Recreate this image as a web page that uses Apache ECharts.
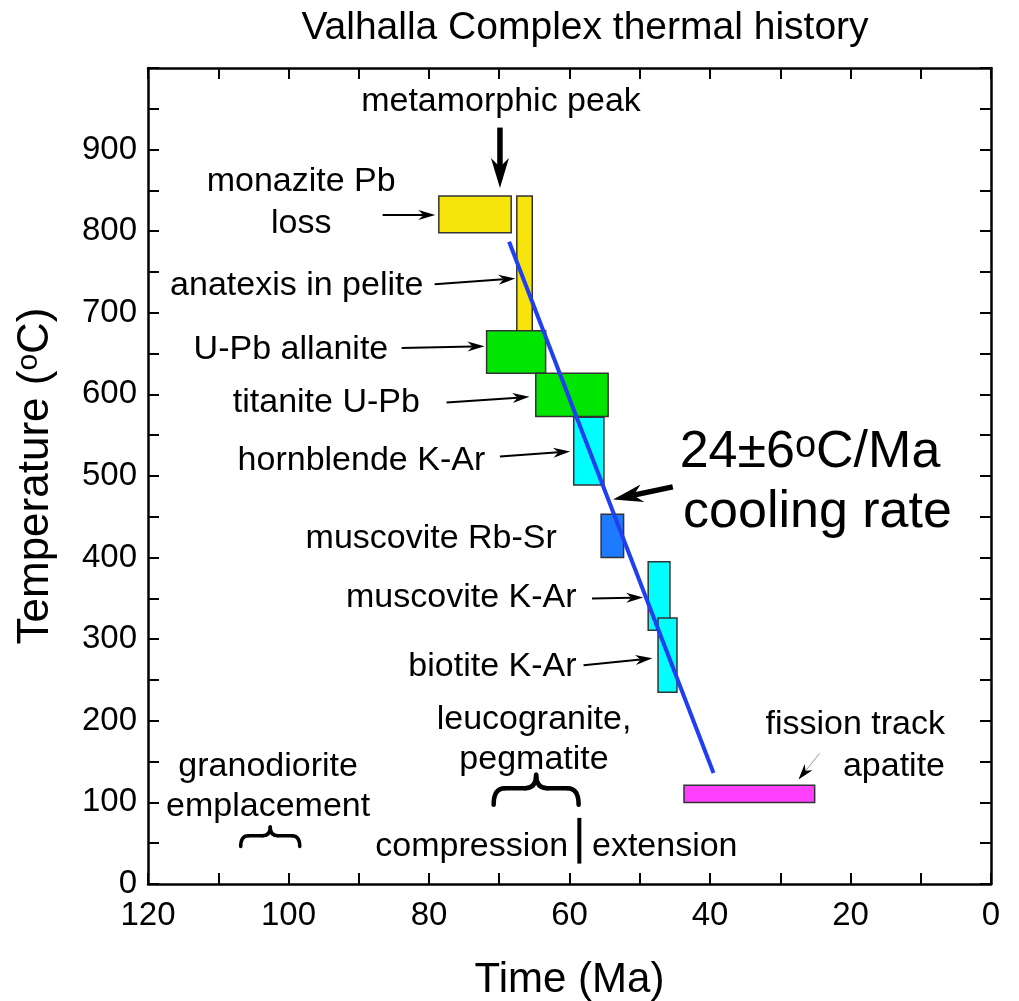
<!DOCTYPE html>
<html><head><meta charset="utf-8">
<script src="https://cdn.jsdelivr.net/npm/echarts@6/dist/echarts.min.js"></script>
<style>html,body{margin:0;padding:0;background:#fff}#c{width:1019px;height:1001px}</style>
</head><body><div id="c"></div>
<script>
// ---- data (ages in Ma, temperatures in °C) ----
const boxNames     = ['monazite Pb loss','anatexis in pelite','U-Pb allanite','titanite U-Pb','hornblende K-Ar','muscovite Rb-Sr','muscovite K-Ar','biotite K-Ar','fission track apatite'];
const boxAgeOld    = [78.6, 67.5, 71.8, 64.8, 59.4, 55.5, 48.8, 47.4, 43.7];
const boxAgeYoung  = [68.3, 65.3, 63.4, 54.5, 55.1, 52.3, 45.7, 44.7, 25.1];
const boxTempHigh  = [843, 843, 678, 626, 572, 453, 395, 326, 121];
const boxTempLow   = [798, 675, 626, 573, 489, 400, 311, 235, 100];

const coolingAge   = [68.6, 39.5];
const coolingTemp  = [787, 136];

const dividerAge   = [58.6, 58.6];
const dividerTemp  = [25, 81];

const braceAgeOld   = [70.8, 106.8];
const braceAgeYoung = [58.7, 98.4];
const braceTempEnd  = [97, 46];
const braceTempTip  = [134, 70];

const labelTexts = ['metamorphic peak','monazite Pb','loss','anatexis in pelite','U-Pb allanite','titanite U-Pb','hornblende K-Ar','muscovite Rb-Sr','muscovite K-Ar','biotite K-Ar','leucogranite,','pegmatite','granodiorite','emplacement','compression','extension','fission track','apatite','24±6{s|o}C/Ma','cooling rate'];
const labelAge   = [69.75, 98.2, 98.2, 80.8, 85.8, 81.3, 72.0, 61.8, 59.0, 59.0, 65.05, 65.05, 102.9, 102.9, 60.2, 56.8, 6.55, 6.55, 25.77, 24.7];
const labelTemp  = [959, 860.5, 809, 733.8, 654.9, 590, 518.6, 423.5, 351, 266.6, 201.7, 152.6, 144.2, 95.2, 46.2, 46.2, 195.2, 144.2, 528, 454.5];

const arrowFromAge  = [69.9, 86.6, 79.2, 83.9, 77.5, 69.9, 56.8, 58.0, 45.3, 24.4];
const arrowFromTemp = [927, 820, 735, 657, 590, 524, 350, 268, 486.7, 160];
const arrowToAge    = [69.9, 79.1, 67.7, 72.1, 65.7, 59.9, 49.5, 48.2, 53.8, 27.4];
const arrowToTemp   = [853, 820, 742, 659, 597, 530, 351, 276.6, 471.2, 128];

const xTickLabels = [0, 20, 40, 60, 80, 100, 120];
const yTickLabels = [0, 100, 200, 300, 400, 500, 600, 700, 800, 900];

// ---- styles ----
const FONT = '"Liberation Sans", Arial, Helvetica, sans-serif';
const boxColors = ['#f6e40c','#f6e40c','#00e600','#00e600','#00ffff','#1e7bff','#00ffff','#00ffff','#ff40ff'];
const labelAlign = ['center','center','center','right','right','right','right','right','right','right','center','center','center','center','right','left','right','right','center','center'];
const labelBig = [18, 19];
const arrowKind = ['thick','thin','thin','thin','thin','thin','thin','thin','thick','gray'];

const chart = echarts.init(document.getElementById('c'), null, {renderer: 'canvas'});

function frameAxis(extra) {
  return Object.assign({
    type: 'value',
    axisLine: {show: true, onZero: false, lineStyle: {color: '#000', width: 2.5}},
    axisTick: {show: true, inside: true, length: 11, lineStyle: {color: '#000', width: 2}},
    splitLine: {show: false}
  }, extra);
}

const option = {
  animation: false,
  backgroundColor: '#fff',
  textStyle: {fontFamily: FONT},
  grid: {left: 148, right: 28, top: 68, bottom: 117, containLabel: false, outerBoundsMode: 'none'},
  graphic: [{
    type: 'text', x: 585, y: 28,
    style: {text: 'Valhalla Complex thermal history', font: '39px ' + FONT, fill: '#000', align: 'center', verticalAlign: 'middle'}
  }],
  xAxis: [
    frameAxis({
      min: 0, max: 120, interval: 10, inverse: true, position: 'bottom',
      axisLabel: {margin: 15, fontSize: 33, color: '#000', fontFamily: FONT,
        formatter: v => xTickLabels.indexOf(v) >= 0 ? String(v) : ''},
      name: 'Time (Ma)', nameLocation: 'middle', nameGap: 75,
      nameTextStyle: {fontSize: 42, color: '#000', fontFamily: FONT}
    }),
    frameAxis({min: 0, max: 120, interval: 10, inverse: true, position: 'top', axisLabel: {show: false}})
  ],
  yAxis: [
    frameAxis({
      min: 0, max: 1000, interval: 50, position: 'left',
      axisLabel: {margin: 11, fontSize: 33, color: '#000', fontFamily: FONT,
        formatter: v => yTickLabels.indexOf(v) >= 0 ? String(v) : ''},
      name: 'Temperature ({s|o}C)', nameLocation: 'middle', nameGap: 90,
      nameTextStyle: {fontSize: 44, color: '#000', fontFamily: FONT,
        rich: {s: {fontSize: 30, color: '#000', fontFamily: FONT, verticalAlign: 'top'}}}
    }),
    frameAxis({min: 0, max: 1000, interval: 50, position: 'right', axisLabel: {show: false}})
  ],
  series: [
    {
      type: 'custom', name: 'boxes', z: 2,
      data: boxNames.map((n, i) => ({name: n, value: [boxAgeOld[i], boxAgeYoung[i], boxTempHigh[i], boxTempLow[i]]})),
      renderItem: (params, api) => {
        const i = params.dataIndex;
        const p0 = api.coord([api.value(0), api.value(2)]);
        const p1 = api.coord([api.value(1), api.value(3)]);
        return {
          type: 'rect',
          shape: {x: Math.min(p0[0], p1[0]), y: Math.min(p0[1], p1[1]), width: Math.abs(p1[0] - p0[0]), height: Math.abs(p1[1] - p0[1])},
          style: {fill: boxColors[i], stroke: '#333', lineWidth: 1.5}
        };
      }
    },
    {
      type: 'line', name: 'cooling', z: 3, symbol: 'none',
      data: coolingAge.map((a, i) => [a, coolingTemp[i]]),
      lineStyle: {color: '#1f3ff0', width: 4}
    },
    {
      type: 'line', name: 'divider', z: 3, symbol: 'none',
      data: dividerAge.map((a, i) => [a, dividerTemp[i]]),
      lineStyle: {color: '#000', width: 4}
    },
    {
      type: 'custom', name: 'braces', z: 4,
      data: braceAgeOld.map((a, i) => [a, braceAgeYoung[i], braceTempEnd[i], braceTempTip[i]]),
      renderItem: (params, api) => {
        const pL = api.coord([api.value(0), api.value(2)]);
        const pR = api.coord([api.value(1), api.value(2)]);
        const pT = api.coord([(api.value(0) + api.value(1)) / 2, api.value(3)]);
        const x0 = pL[0], x1 = pR[0], yb = pL[1], yt = pT[1], xc = pT[0];
        const ym = yb - (yb - yt) * 0.55;
        const r = (x1 - x0) * 0.13;
        const lw = params.dataIndex === 0 ? 4.5 : 3.5;
        const st = {stroke: '#000', lineWidth: lw, fill: null, lineCap: 'round'};
        const bz = (a, c, b) => ({type: 'bezierCurve', shape: {x1: a[0], y1: a[1], x2: b[0], y2: b[1], cpx1: c[0], cpy1: c[1]}, style: st});
        const ln = (a, b) => ({type: 'line', shape: {x1: a[0], y1: a[1], x2: b[0], y2: b[1]}, style: st});
        return {type: 'group', children: [
          bz([x0, yb], [x0, ym], [x0 + r, ym]),
          ln([x0 + r, ym], [xc - r, ym]),
          bz([xc - r, ym], [xc, ym], [xc, yt]),
          bz([xc, yt], [xc, ym], [xc + r, ym]),
          ln([xc + r, ym], [x1 - r, ym]),
          bz([x1 - r, ym], [x1, ym], [x1, yb])
        ]};
      }
    },
    {
      type: 'custom', name: 'arrows', z: 5,
      data: arrowFromAge.map((a, i) => [a, arrowFromTemp[i], arrowToAge[i], arrowToTemp[i]]),
      renderItem: (params, api) => {
        const kind = arrowKind[params.dataIndex];
        const a = api.coord([api.value(0), api.value(1)]);
        const b = api.coord([api.value(2), api.value(3)]);
        const dx = b[0] - a[0], dy = b[1] - a[1], L = Math.hypot(dx, dy);
        const ux = dx / L, uy = dy / L, nx = -uy, ny = ux;
        const spec = kind === 'thick' ? {hl: 30, hw: 9, lw: 5.5, col: '#000'} :
                     kind === 'gray' ? {hl: 16, hw: 5, lw: 1, col: '#999'} :
                                       {hl: 17, hw: 5, lw: 2, col: '#000'};
        const notch = [b[0] - ux * spec.hl * 0.7, b[1] - uy * spec.hl * 0.7];
        const w1 = [b[0] - ux * spec.hl + nx * spec.hw, b[1] - uy * spec.hl + ny * spec.hw];
        const w2 = [b[0] - ux * spec.hl - nx * spec.hw, b[1] - uy * spec.hl - ny * spec.hw];
        return {type: 'group', children: [
          {type: 'line', shape: {x1: a[0], y1: a[1], x2: notch[0], y2: notch[1]}, style: {stroke: spec.col, lineWidth: spec.lw}},
          {type: 'polygon', shape: {points: [b, w1, notch, w2]}, style: {fill: '#000'}}
        ]};
      }
    },
    {
      type: 'custom', name: 'labels', z: 6,
      data: labelAge.map((a, i) => [a, labelTemp[i]]),
      renderItem: (params, api) => {
        const i = params.dataIndex;
        const p = api.coord([api.value(0), api.value(1)]);
        const big = labelBig.indexOf(i) >= 0;
        return {
          type: 'text', x: p[0], y: p[1],
          style: {
            text: labelTexts[i], font: (big ? 52 : 34) + 'px ' + FONT, fill: '#000',
            align: labelAlign[i], verticalAlign: 'middle',
            rich: {s: {font: '38px ' + FONT, fill: '#000', verticalAlign: 'top'}}
          }
        };
      }
    }
  ]
};
chart.setOption(option);
</script>
</body></html>
